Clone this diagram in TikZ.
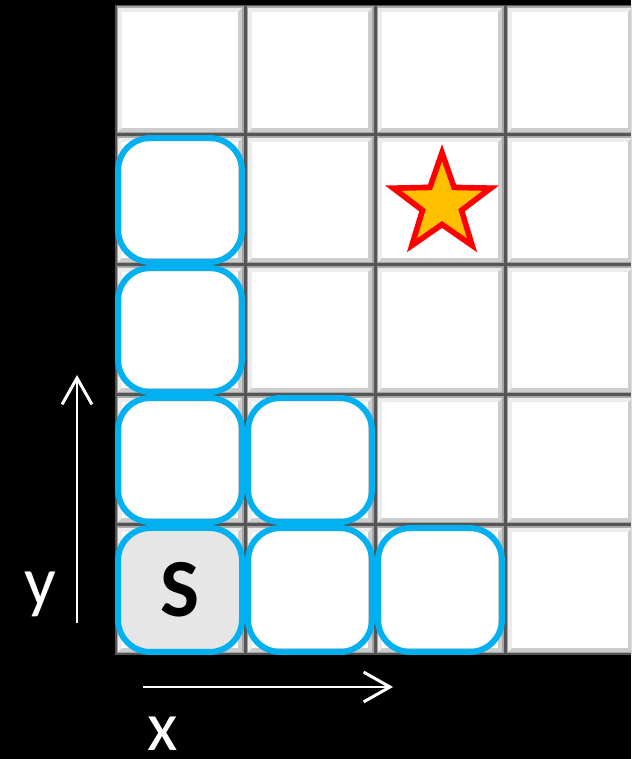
\documentclass[tikz,border=0pt]{standalone}
\usepackage{fontspec}
\setmainfont{Carlito}
\usetikzlibrary{arrows.meta, positioning, shapes.geometric}

\definecolor{gridgray}{HTML}{555555}
\definecolor{bevmid}{HTML}{A5A5A5}
\definecolor{bevdark}{HTML}{CDCDCD}
\definecolor{bevlight}{HTML}{ECECEC}
\definecolor{pathblue}{HTML}{00B0F0}
\definecolor{startgray}{HTML}{E6E6E6}
\definecolor{goldfill}{HTML}{FFC000}

\begin{document}
\begin{tikzpicture}[
x=0.02cm, y=0.02cm,
pathbox/.style={draw=pathblue, line width=3.4pt, rounded corners=0.65cm, minimum size=2.48cm, inner sep=0pt},
goalstar/.style={star, star points=5, star point ratio=2.5, draw=red, fill=goldfill, line width=3.2pt, minimum size=2.05cm, inner sep=0pt},
axis/.style={white, line width=1.7pt, -{Straight Barb[length=15pt, width=17pt, line width=1.7pt]}},
axislabel/.style={text=white, font=\fontsize{40pt}{40pt}\selectfont, anchor=base, inner sep=0pt}
]

\fill[black] (-115,-104) rectangle (516,655);
\useasboundingbox (-115,-104) rectangle (516,655);

% bevelled floor tiles
\begin{scope}
\clip (-115,-104) rectangle (516,655);
\foreach \c in {0,...,3} {
  \foreach \r in {0,...,4} {
    \fill[gridgray] (130*\c,130*\r) rectangle +(130,130);
    \fill[bevmid] (130*\c+1.5,130*\r+1.5) rectangle +(127,127);
    \fill[bevdark] (130*\c+3,130*\r+3) rectangle +(124,124);
    \fill[bevlight] (130*\c+3,130*\r+3) -- (130*\c+3,130*\r+127) -- (130*\c+127,130*\r+127)
      -- (130*\c+121,130*\r+121) -- (130*\c+9,130*\r+9) -- cycle;
    \fill[white] (130*\c+7,130*\r+7) rectangle +(116,116);
  }
}
\end{scope}

% visited cells
\node[pathbox, fill=startgray, font=\fontsize{47pt}{47pt}\selectfont\bfseries] (start) at (65,65) {S};
\node[pathbox] (p10) at (195,65) {};
\node[pathbox] (p20) at (325,65) {};
\node[pathbox] (p01) at (65,195) {};
\node[pathbox] (p11) at (195,195) {};
\node[pathbox] (p02) at (65,325) {};
\node[pathbox] (p03) at (65,455) {};

\node[goalstar] (goal) at (327,451) {};

% axes
\coordinate (ybot) at (-38,32);
\coordinate (ytop) at (-38,280);
\coordinate (xleft) at (28,-32);
\coordinate (xright) at (278,-32);
\draw[axis] (ybot) -- (ytop);
\draw[axis] (xleft) -- (xright);
\node[axislabel] (ylab) at (-75,49) {y};
\node[axislabel] (xlab) at (48,-95) {x};

\end{tikzpicture}
\end{document}
